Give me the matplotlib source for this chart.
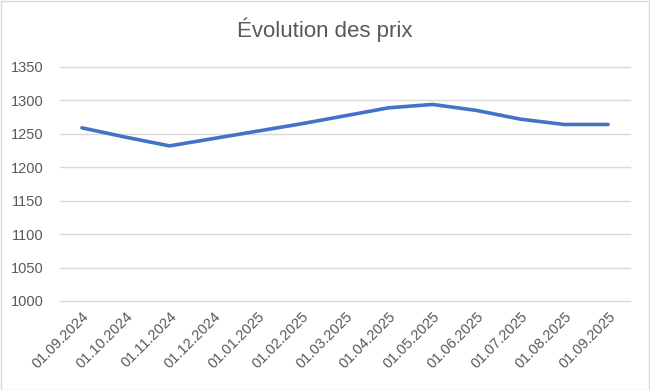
import matplotlib
matplotlib.use("Agg")
from matplotlib import pyplot as plt
from matplotlib.patches import Rectangle

dates = ["01.09.2024", "01.10.2024", "01.11.2024", "01.12.2024", "01.01.2025",
         "01.02.2025", "01.03.2025", "01.04.2025", "01.05.2025", "01.06.2025",
         "01.07.2025", "01.08.2025", "01.09.2025"]
prices = [1259, 1245, 1232, 1243, 1254, 1265, 1277, 1289, 1294, 1285, 1272, 1264, 1264]
y_ticks = [1000, 1050, 1100, 1150, 1200, 1250, 1300, 1350]

TEXT = "#595959"
GRID = "#D9D9D9"

plt.rcParams['font.family'] = ['Liberation Sans', 'DejaVu Sans']

fig = plt.figure(figsize=(6.5, 3.9), dpi=100)
# (left, bottom, width, height) in fractions of the figure
ax = fig.add_axes((60 / 650, 1 - 301 / 390, 570 / 650, 234 / 390))

x = list(range(len(dates)))
ax.plot(x, prices, color="#4472C4", linewidth=2.6, solid_capstyle="round")

ax.set_xlim(-0.5, len(dates) - 0.5)
ax.set_ylim(1000, 1350)
ax.set_yticks(y_ticks)
ax.set_yticklabels([str(v) for v in y_ticks])
ax.set_xticks(x)
ax.set_xticklabels(dates, rotation=45, ha="right", va="top", rotation_mode="anchor")
ax.grid(axis="y", color=GRID, linewidth=1, clip_on=False)
for gl in ax.get_ygridlines():
    gl.set_clip_on(False)
ax.set_axisbelow(True)
for s in ax.spines.values():
    s.set_visible(False)
ax.tick_params(axis="both", length=0, labelsize=10.5, labelcolor=TEXT)
ax.tick_params(axis="y", pad=12)
ax.tick_params(axis="x", pad=6)

fig.text(0.5, 1 - 30 / 390, "Évolution des prix", ha="center", va="center",
         fontsize=16, color=TEXT)

fig.patches.append(Rectangle((0.001, 0.001), 0.997, 0.997, transform=fig.transFigure,
                             fill=False, edgecolor=GRID, linewidth=1))

fig.savefig("out.png", dpi=100)
